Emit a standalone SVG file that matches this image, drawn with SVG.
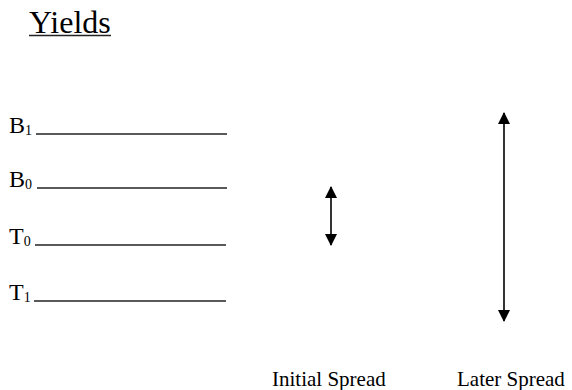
<svg xmlns="http://www.w3.org/2000/svg" width="572" height="390" viewBox="0 0 572 390">
<style>
text{font-family:"Liberation Serif","Times New Roman",serif;fill:#000}
.lbl{font-size:24px}
.sub{font-size:14px}
.cap{font-size:21px}
.yl{stroke:#222;stroke-width:1.6;fill:none}
.arr{stroke:#000;stroke-width:1.6;fill:none;marker-start:url(#ah);marker-end:url(#ah)}
</style>
<defs>
<marker id="ah" viewBox="0 0 12 12" refX="11" refY="6" markerWidth="12" markerHeight="12" markerUnits="userSpaceOnUse" orient="auto-start-reverse">
<path d="M0,0 L12,6 L0,12 Z" fill="#000"/>
</marker>
</defs>
<rect width="572" height="390" fill="#fff"/>
<g id="title">
<text x="29" y="33" style="font-size:32px">Yields</text>
<line x1="29" y1="35.5" x2="111" y2="35.5" stroke="#222" stroke-width="1.6"/>
</g>
<g id="B1">
<text x="9" y="133" class="lbl">B<tspan class="sub" dy="2">1</tspan></text>
<line class="yl" x1="36" y1="134" x2="227" y2="134"/>
</g>
<g id="B0">
<text x="9" y="187" class="lbl">B<tspan class="sub" dy="2">0</tspan></text>
<line class="yl" x1="37" y1="188" x2="227" y2="188"/>
</g>
<g id="T0">
<text x="9" y="244" class="lbl">T<tspan class="sub" dy="2">0</tspan></text>
<line class="yl" x1="35" y1="245" x2="226" y2="245"/>
</g>
<g id="T1">
<text x="9" y="300" class="lbl">T<tspan class="sub" dy="2">1</tspan></text>
<line class="yl" x1="34" y1="301" x2="226" y2="301"/>
</g>
<g id="connectors">
<line class="arr" x1="331" y1="187" x2="331" y2="245"/>
<line class="arr" x1="504" y1="113" x2="504" y2="321"/>
</g>
<g id="labels">
<text x="272" y="386" class="cap">Initial Spread</text>
<text x="457" y="386" class="cap">Later Spread</text>
</g>
</svg>
